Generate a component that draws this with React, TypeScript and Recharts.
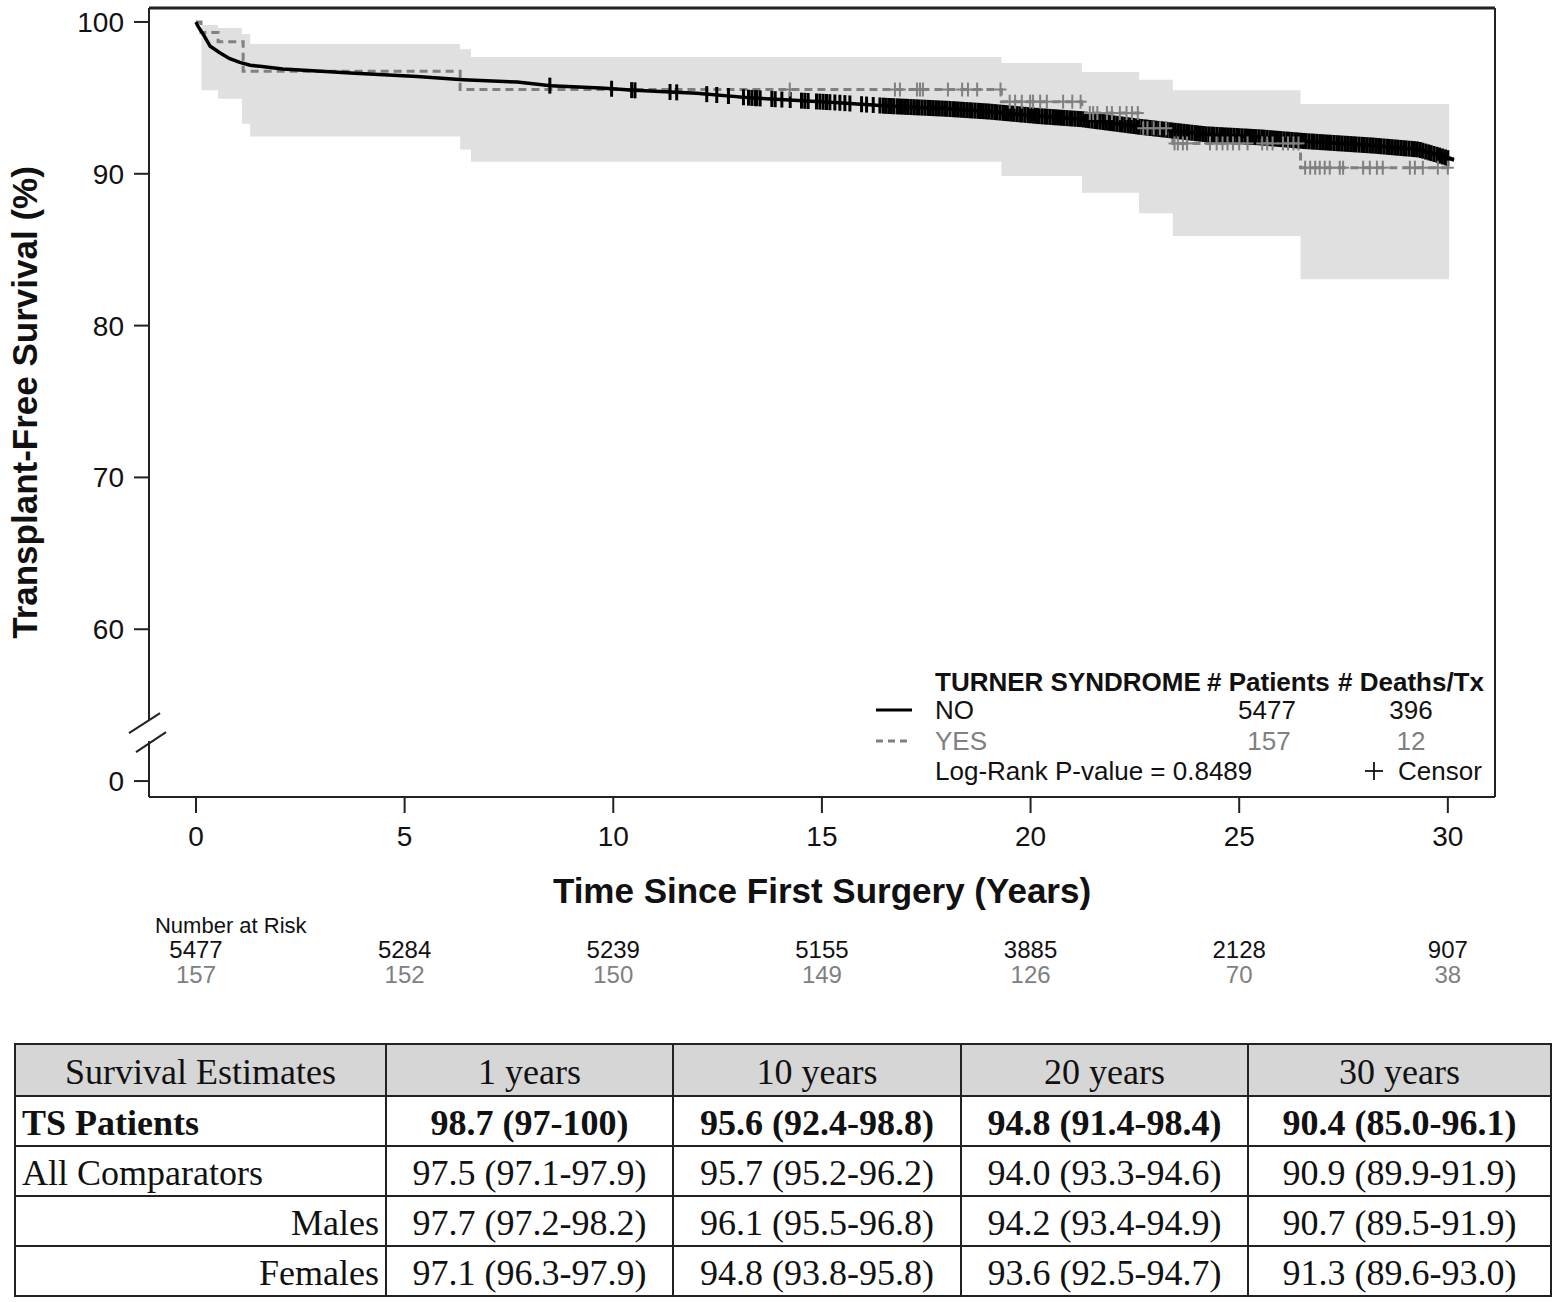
import React from 'react';
import { ComposedChart, Line, Area, Scatter, XAxis, YAxis, Legend, ReferenceLine } from 'recharts';

// ---------- data ----------
const timeTicks = [0, 5, 10, 15, 20, 25, 30];
const atRiskNo = [5477, 5284, 5239, 5155, 3885, 2128, 907];
const atRiskYes = [157, 152, 150, 149, 126, 70, 38];
const yTickValues = [0, 60, 70, 80, 90, 100];

const noTimes = [0, 0.05, 0.18, 0.34, 0.58, 0.81, 1.05, 1.3, 1.53, 2.08, 3.0, 3.7, 5.3, 6.4, 7.7, 8.5, 9.7, 10.5, 12.0, 13.3, 15.3, 16.5, 18.0, 19.0, 20.2, 21.2, 22.6, 24.2, 25.5, 26.6, 28.2, 29.3, 29.8, 30.15];
const noSurvival = [100, 99.7, 99.16, 98.4, 97.96, 97.58, 97.34, 97.15, 97.08, 96.9, 96.75, 96.64, 96.4, 96.2, 96.04, 95.8, 95.65, 95.5, 95.3, 95.0, 94.7, 94.48, 94.28, 94.1, 93.8, 93.6, 93.1, 92.6, 92.4, 92.15, 91.86, 91.6, 91.2, 90.9];

const yesTimes = [0, 0.12, 0.53, 1.13, 6.33, 19.3, 21.23, 22.6, 23.41, 26.47, 30.15];
const yesSurvival = [100, 99.3, 98.7, 96.75, 95.55, 94.75, 94.0, 93.0, 92.0, 90.4, 90.4];

const yesBandTimes = [0, 0.13, 0.53, 1.1, 1.3, 6.33, 6.59, 19.3, 21.23, 22.6, 23.41, 26.47, 30.03];
const yesLower = [100, 95.5, 94.95, 93.3, 92.45, 91.6, 90.8, 89.85, 88.75, 87.4, 85.9, 83.05, 83.05];
const yesUpper = [100, 99.8, 99.6, 99.2, 98.55, 98.2, 97.7, 97.3, 96.7, 96.2, 95.5, 94.6, 94.6];

const noCensorTimes = [
  8.48, 9.96, 10.44, 10.52, 11.36, 11.52, 12.24, 12.48, 12.76, 13.12, 13.24, 13.32, 13.4, 13.44, 13.52, 13.8, 13.88,
  14.04, 14.24, 14.51, 14.59, 14.67, 14.87, 14.95, 15.03, 15.11, 15.19, 15.31, 15.43, 15.55, 15.67, 15.95, 16.07, 16.23, 16.39,
  16.47, 16.53, 16.6, 16.66, 16.72, 16.8, 16.86, 16.93, 17.0, 17.06, 17.13, 17.2, 17.27, 17.33, 17.4, 17.47, 17.54, 17.6, 17.67,
  17.74, 17.8, 17.87, 17.94, 18.0, 18.07, 18.14, 18.2, 18.27, 18.34, 18.4, 18.47, 18.54, 18.6, 18.67, 18.74, 18.8, 18.87, 18.94,
  19.0, 19.07, 19.14, 19.2, 19.27, 19.34, 19.4, 19.47, 19.54, 19.6, 19.67, 19.74, 19.8, 19.87, 19.94, 20.0, 20.07, 20.14, 20.2,
  20.27, 20.34, 20.4, 20.47, 20.54, 20.6, 20.67, 20.74, 20.8, 20.87, 20.94, 21.0, 21.07, 21.14, 21.2, 21.27, 21.34, 21.4, 21.47,
  21.54, 21.6, 21.67, 21.74, 21.8, 21.87, 21.94, 22.0, 22.07, 22.14, 22.2, 22.27, 22.34, 22.4, 22.47, 22.54, 22.6, 22.67, 22.74,
  22.8, 22.87, 22.94, 23.0, 23.07, 23.14, 23.2, 23.27, 23.34, 23.4, 23.47, 23.54, 23.6, 23.67, 23.74, 23.8, 23.87, 23.94, 24.0,
  24.07, 24.14, 24.2, 24.27, 24.34, 24.4, 24.47, 24.54, 24.6, 24.67, 24.74, 24.8, 24.87, 24.94, 25.0, 25.07, 25.14, 25.2, 25.27,
  25.34, 25.4, 25.47, 25.54, 25.6, 25.67, 25.74, 25.8, 25.87, 25.94, 26.0, 26.07, 26.14, 26.2, 26.27, 26.34, 26.4, 26.47, 26.54,
  26.6, 26.67, 26.74, 26.8, 26.87, 26.94, 27.0, 27.07, 27.14, 27.2, 27.27, 27.34, 27.4, 27.47, 27.54, 27.6, 27.67, 27.74, 27.8,
  27.87, 27.94, 28.0, 28.07, 28.14, 28.2, 28.27, 28.34, 28.4, 28.47, 28.54, 28.6, 28.67, 28.74, 28.8, 28.87, 28.94, 29.0, 29.07,
  29.14, 29.2, 29.27, 29.34, 29.4, 29.47, 29.54, 29.6, 29.67, 29.74, 29.8, 29.87, 29.94, 30.0,
];

const yesCensorTimes = [
  14.23, 16.75, 16.87, 17.28, 17.35, 17.42, 18.02, 18.36, 18.5, 18.72, 19.28,
  19.5, 19.63, 19.79, 19.99, 20.06, 20.23, 20.39, 20.78, 21.0, 21.2,
  21.42, 21.5, 21.6, 21.83, 21.95, 22.14, 22.3, 22.43, 22.57,
  22.7, 22.8, 22.95, 23.1, 23.25,
  23.45, 23.53, 23.65, 23.75, 24.3, 24.46, 24.6, 24.72, 24.85, 25.0, 25.2, 25.55, 25.67, 25.8, 26.05, 26.17, 26.3, 26.42,
  26.58, 26.7, 26.82, 26.93, 27.05, 27.17, 27.41, 27.49, 27.97, 28.13, 28.3, 28.44, 29.09, 29.21, 29.4, 29.76, 30.0,
];

const tableHeader = ['Survival Estimates', '1 years', '10 years', '20 years', '30 years'];
const tableRowLabels = ['TS Patients', 'All Comparators', 'Males', 'Females'];
const tableValues = [
  ['98.7 (97-100)', '95.6 (92.4-98.8)', '94.8 (91.4-98.4)', '90.4 (85.0-96.1)'],
  ['97.5 (97.1-97.9)', '95.7 (95.2-96.2)', '94.0 (93.3-94.6)', '90.9 (89.9-91.9)'],
  ['97.7 (97.2-98.2)', '96.1 (95.5-96.8)', '94.2 (93.4-94.9)', '90.7 (89.5-91.9)'],
  ['97.1 (96.3-97.9)', '94.8 (93.8-95.8)', '93.6 (92.5-94.7)', '91.3 (89.6-93.0)'],
];

// ---------- helpers ----------
const BREAK_SHIFT = 50; // values below the axis break are drawn shifted up by this amount
const toDisplay = (v: number) => (v < 55 ? v + BREAK_SHIFT : v);
const fromDisplay = (v: number) => (v < 55 ? v - BREAK_SHIFT : v);

const linearAt = (ts: number[], vs: number[], t: number) => {
  for (let i = 0; i < ts.length - 1; i++) {
    if (t >= ts[i] && t <= ts[i + 1]) {
      const f = (t - ts[i]) / (ts[i + 1] - ts[i]);
      return vs[i] + f * (vs[i + 1] - vs[i]);
    }
  }
  return vs[vs.length - 1];
};
const stepAt = (ts: number[], vs: number[], t: number) => {
  let v = vs[0];
  for (let i = 0; i < ts.length; i++) if (t >= ts[i]) v = vs[i];
  return v;
};

const noData = noTimes.map((t, i) => ({ t, s: noSurvival[i] }));
const yesData = yesTimes.map((t, i) => ({ t, s: yesSurvival[i] }));
const bandData = yesBandTimes.map((t, i) => ({ t, range: [yesLower[i], yesUpper[i]] }));
const noCensorData = noCensorTimes.map((t) => ({ t, s: linearAt(noTimes, noSurvival, t) }));
const yesCensorData = yesCensorTimes.map((t) => ({ t, s: stepAt(yesTimes, yesSurvival, t) }));

const X_DOMAIN: [number, number] = [-1.126, 31.13];
const Y_DOMAIN: [number, number] = [48.95, 100.92];

const FONT = '"Liberation Sans", Arial, Helvetica, sans-serif';
const SERIF = '"Liberation Serif", "Times New Roman", Times, serif';
const AXIS = '#222';
const GRAY = '#808080';

const makePlus = (color: string, w: number, hv: number) => (props: any) => {
  const { cx, cy } = props;
  if (cx == null || cy == null) return <g />;
  return (
    <g>
      <line x1={cx - 6} x2={cx + 6} y1={cy} y2={cy} stroke={color} strokeWidth={2} />
      <line x1={cx} x2={cx} y1={cy - hv} y2={cy + hv} stroke={color} strokeWidth={w} />
    </g>
  );
};

const YTick = (props: any) => {
  const { x, y, payload } = props;
  const v = fromDisplay(payload.value);
  return (
    <g>
      {v === 0 && (
        <g>
          <rect x={x + 20} y={y - 61} width={10} height={21} fill="#fff" />
          <line x1={x + 5} y1={y - 48} x2={x + 36} y2={y - 68} stroke={AXIS} strokeWidth={2} />
          <line x1={x + 12} y1={y - 29} x2={x + 42} y2={y - 49} stroke={AXIS} strokeWidth={2} />
        </g>
      )}
      <text x={x} y={y} dy={10} textAnchor="end" fontSize={28} fontFamily={FONT} fill="#111">
        {v}
      </text>
    </g>
  );
};

const XTick = (props: any) => {
  const { x, y, payload } = props;
  const i = timeTicks.indexOf(payload.value);
  return (
    <g fontFamily={FONT}>
      <text x={x} y={y + 31} textAnchor="middle" fontSize={28} fill="#111">
        {payload.value}
      </text>
      {i === 0 && (
        <text x={x - 41} y={y + 118} fontSize={22} fill="#111">
          Number at Risk
        </text>
      )}
      <text x={x} y={y + 143} textAnchor="middle" fontSize={24} fill="#111">
        {atRiskNo[i]}
      </text>
      <text x={x} y={y + 168} textAnchor="middle" fontSize={24} fill={GRAY}>
        {atRiskYes[i]}
      </text>
    </g>
  );
};

const XTitle = (props: any) => {
  const vb = props.viewBox || { x: 149, y: 797, width: 1346 };
  return (
    <text x={vb.x + vb.width / 2} y={vb.y + 106} textAnchor="middle" fontSize={35} fontWeight="bold" fontFamily={FONT} fill="#111">
      Time Since First Surgery (Years)
    </text>
  );
};

const YTitle = (props: any) => {
  const vb = props.viewBox || { x: 0, y: 8, height: 789 };
  const cx = vb.x + 37;
  const cy = vb.y + vb.height / 2;
  return (
    <text x={cx} y={cy} transform={`rotate(-90, ${cx}, ${cy})`} textAnchor="middle" fontSize={35} fontWeight="bold" fontFamily={FONT} fill="#111">
      Transplant-Free Survival (%)
    </text>
  );
};

const LegendBox = () => (
  <svg width={640} height={130} style={{ display: 'block', fontFamily: FONT }}>
    <g fontSize={26} fill="#111">
      <text x={75} y={31} fontWeight="bold">TURNER SYNDROME</text>
      <text x={347} y={31} fontWeight="bold"># Patients</text>
      <text x={478} y={31} fontWeight="bold"># Deaths/Tx</text>
      <line x1={16} x2={52} y1={50} y2={50} stroke="#000" strokeWidth={3} />
      <text x={75} y={59}>NO</text>
      <text x={407} y={59} textAnchor="middle">5477</text>
      <text x={551} y={59} textAnchor="middle">396</text>
      <line x1={16} x2={52} y1={81} y2={81} stroke={GRAY} strokeWidth={3} strokeDasharray="7 5" />
      <text x={75} y={90} fill={GRAY}>YES</text>
      <text x={409} y={90} textAnchor="middle" fill={GRAY}>157</text>
      <text x={551} y={90} textAnchor="middle" fill={GRAY}>12</text>
      <text x={75} y={120}>Log-Rank P-value = 0.8489</text>
      <line x1={505} x2={523} y1={111} y2={111} stroke="#111" strokeWidth={1.8} />
      <line x1={514} x2={514} y1={102} y2={120} stroke="#111" strokeWidth={1.8} />
      <text x={538} y={120}>Censor</text>
    </g>
  </svg>
);

const cellBase: React.CSSProperties = {
  border: '2px solid #222',
  padding: '4px 6px 0 6px',
  height: 50,
  boxSizing: 'border-box',
  whiteSpace: 'nowrap',
  textAlign: 'center',
  verticalAlign: 'middle',
};

export default function App() {
  return (
    <div style={{ position: 'absolute', left: 0, top: 0, width: 1557, height: 1302, background: '#fff', fontFamily: FONT }}>
      <ComposedChart width={1557} height={1000} margin={{ top: 8, right: 62, bottom: 0, left: 0 }}>
        <XAxis
          dataKey="t"
          type="number"
          domain={X_DOMAIN}
          allowDataOverflow
          ticks={timeTicks}
          interval={0}
          height={203}
          tickSize={16}
          axisLine={{ stroke: AXIS, strokeWidth: 2 }}
          tickLine={{ stroke: AXIS, strokeWidth: 2 }}
          tick={<XTick />}
          label={<XTitle />}
        />
        <YAxis
          type="number"
          domain={Y_DOMAIN}
          allowDataOverflow
          ticks={yTickValues.map(toDisplay)}
          interval={0}
          width={149}
          tickSize={15}
          tickMargin={10}
          axisLine={{ stroke: AXIS, strokeWidth: 2 }}
          tickLine={{ stroke: AXIS, strokeWidth: 2 }}
          tick={<YTick />}
          label={<YTitle />}
        />
        <Area
          data={bandData}
          dataKey="range"
          type="stepAfter"
          fill="#e0e0e0"
          fillOpacity={1}
          stroke="none"
          isAnimationActive={false}
          legendType="none"
        />
        <Line
          data={yesData}
          dataKey="s"
          type="stepAfter"
          stroke={GRAY}
          strokeWidth={3}
          strokeDasharray="8 5"
          dot={false}
          activeDot={false}
          isAnimationActive={false}
        />
        <Line
          data={noData}
          dataKey="s"
          type="linear"
          stroke="#000"
          strokeWidth={3.5}
          dot={false}
          activeDot={false}
          isAnimationActive={false}
        />
        <Scatter data={noCensorData} dataKey="s" shape={makePlus('#000', 3, 8)} isAnimationActive={false} />
        <Scatter data={yesCensorData} dataKey="s" shape={makePlus(GRAY, 2, 7)} isAnimationActive={false} />
        <ReferenceLine
          segment={[
            { x: X_DOMAIN[0], y: Y_DOMAIN[1] },
            { x: X_DOMAIN[1], y: Y_DOMAIN[1] },
          ]}
          stroke={AXIS}
          strokeWidth={3}
          ifOverflow="visible"
        />
        <ReferenceLine
          segment={[
            { x: X_DOMAIN[1], y: Y_DOMAIN[0] },
            { x: X_DOMAIN[1], y: Y_DOMAIN[1] },
          ]}
          stroke={AXIS}
          strokeWidth={2}
          ifOverflow="visible"
        />
        <Legend
          layout="horizontal"
          verticalAlign="middle"
          align="center"
          content={<LegendBox />}
          wrapperStyle={{ left: 860, top: 660, width: 640, height: 130 }}
        />
      </ComposedChart>

      <table
        style={{
          position: 'absolute',
          left: 14,
          top: 1043,
          width: 1536,
          borderCollapse: 'collapse',
          tableLayout: 'fixed',
          fontFamily: SERIF,
          fontSize: 36,
          color: '#111',
        }}
      >
        <colgroup>
          <col style={{ width: 371 }} />
          <col style={{ width: 287 }} />
          <col style={{ width: 288 }} />
          <col style={{ width: 287 }} />
          <col style={{ width: 303 }} />
        </colgroup>
        <thead>
          <tr>
            {tableHeader.map((h) => (
              <th key={h} style={{ ...cellBase, background: '#d6d6d6', fontWeight: 'normal', height: 52 }}>
                {h}
              </th>
            ))}
          </tr>
        </thead>
        <tbody>
          {tableRowLabels.map((label, r) => (
            <tr key={label}>
              <td
                style={{
                  ...cellBase,
                  textAlign: r < 2 ? 'left' : 'right',
                  fontWeight: r === 0 ? 'bold' : 'normal',
                }}
              >
                {label}
              </td>
              {tableValues[r].map((v, c) => (
                <td key={c} style={{ ...cellBase, fontWeight: r === 0 ? 'bold' : 'normal' }}>
                  {v}
                </td>
              ))}
            </tr>
          ))}
        </tbody>
      </table>
    </div>
  );
}
